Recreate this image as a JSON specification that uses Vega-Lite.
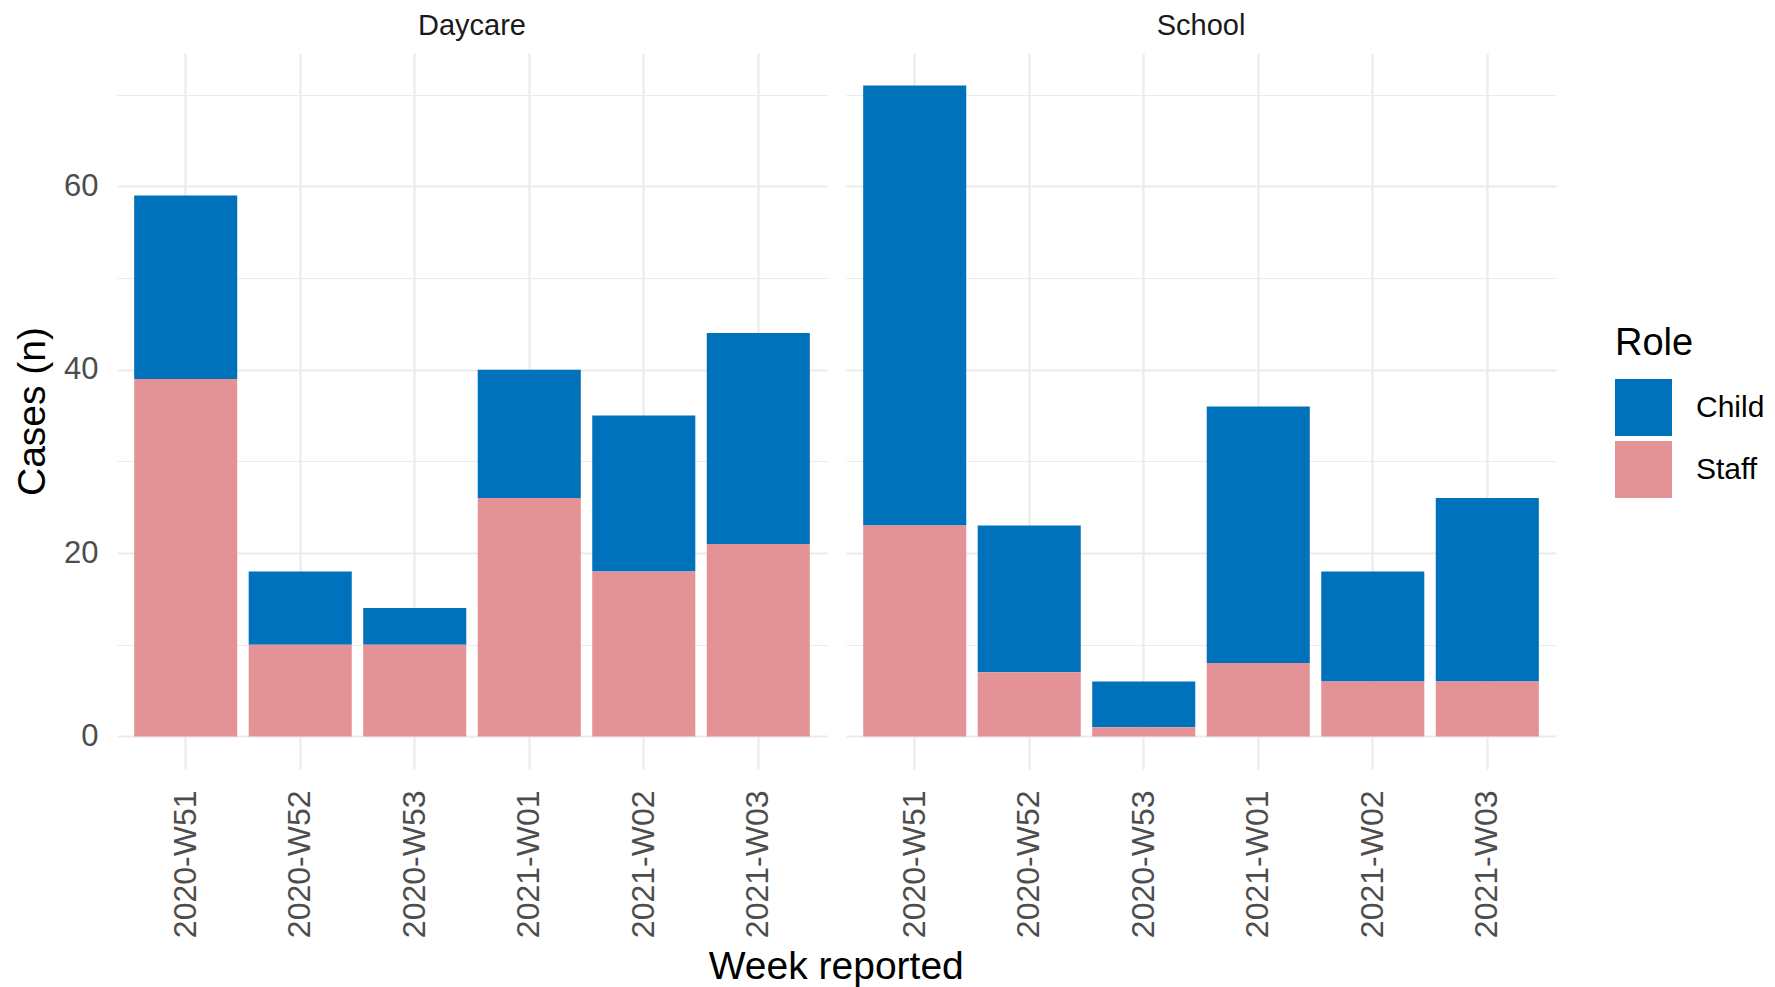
{
  "$schema": "https://vega.github.io/schema/vega-lite/v6.json",
  "background": "white",
  "padding": {"left": 13, "top": 12, "right": 5, "bottom": 3},
  "title": {
    "text": "Week reported",
    "orient": "bottom",
    "anchor": "middle",
    "frame": "bounds",
    "dx": -53,
    "font": "Liberation Sans",
    "fontSize": 39,
    "fontWeight": "normal",
    "color": "#000000",
    "offset": 10
  },
  "data": {
    "values": [
      {"site": "Daycare", "week": "2020-W51", "role": "Child", "n": 20},
      {"site": "Daycare", "week": "2020-W51", "role": "Staff", "n": 39},
      {"site": "Daycare", "week": "2020-W52", "role": "Child", "n": 8},
      {"site": "Daycare", "week": "2020-W52", "role": "Staff", "n": 10},
      {"site": "Daycare", "week": "2020-W53", "role": "Child", "n": 4},
      {"site": "Daycare", "week": "2020-W53", "role": "Staff", "n": 10},
      {"site": "Daycare", "week": "2021-W01", "role": "Child", "n": 14},
      {"site": "Daycare", "week": "2021-W01", "role": "Staff", "n": 26},
      {"site": "Daycare", "week": "2021-W02", "role": "Child", "n": 17},
      {"site": "Daycare", "week": "2021-W02", "role": "Staff", "n": 18},
      {"site": "Daycare", "week": "2021-W03", "role": "Child", "n": 23},
      {"site": "Daycare", "week": "2021-W03", "role": "Staff", "n": 21},
      {"site": "School", "week": "2020-W51", "role": "Child", "n": 48},
      {"site": "School", "week": "2020-W51", "role": "Staff", "n": 23},
      {"site": "School", "week": "2020-W52", "role": "Child", "n": 16},
      {"site": "School", "week": "2020-W52", "role": "Staff", "n": 7},
      {"site": "School", "week": "2020-W53", "role": "Child", "n": 5},
      {"site": "School", "week": "2020-W53", "role": "Staff", "n": 1},
      {"site": "School", "week": "2021-W01", "role": "Child", "n": 28},
      {"site": "School", "week": "2021-W01", "role": "Staff", "n": 8},
      {"site": "School", "week": "2021-W02", "role": "Child", "n": 12},
      {"site": "School", "week": "2021-W02", "role": "Staff", "n": 6},
      {"site": "School", "week": "2021-W03", "role": "Child", "n": 20},
      {"site": "School", "week": "2021-W03", "role": "Staff", "n": 6}
    ]
  },
  "facet": {
    "column": {
      "field": "site",
      "type": "nominal",
      "header": {
        "title": null,
        "labelFont": "Liberation Sans",
        "labelFontSize": 29,
        "labelColor": "#1a1a1a",
        "labelPadding": 12
      }
    }
  },
  "spacing": 19,
  "spec": {
    "width": 710,
    "height": 716,
    "mark": {"type": "bar"},
    "encoding": {
      "x": {
        "field": "week",
        "type": "ordinal",
        "sort": ["2020-W51", "2020-W52", "2020-W53", "2021-W01", "2021-W02", "2021-W03"],
        "scale": {"paddingInner": 0.1, "paddingOuter": 0.15},
        "axis": {
          "title": null,
          "labelAngle": 270,
          "labelFont": "Liberation Sans",
          "labelFontSize": 32,
          "labelColor": "#4d4d4d",
          "labelPadding": 21,
          "labelOverlap": false,
          "ticks": false,
          "domain": false,
          "grid": true,
          "bandPosition": 0.5,
          "gridColor": "#ebebeb",
          "gridWidth": 2.2
        }
      },
      "y": {
        "field": "n",
        "type": "quantitative",
        "stack": "zero",
        "scale": {"domain": [-3.55, 74.55], "nice": false, "zero": false},
        "axis": {
          "title": "Cases (n)",
          "titleFont": "Liberation Sans",
          "titleFontSize": 39,
          "titleFontWeight": "normal",
          "titleColor": "#000000",
          "titlePadding": 11,
          "values": [0, 10, 20, 30, 40, 50, 60, 70],
          "labelExpr": "datum.value % 20 === 0 ? datum.label : ''",
          "labelFont": "Liberation Sans",
          "labelFontSize": 31,
          "labelColor": "#4d4d4d",
          "labelPadding": 19,
          "ticks": false,
          "domain": false,
          "grid": true,
          "gridColor": "#ebebeb",
          "gridWidth": {"condition": {"test": "datum.value % 20 === 0", "value": 2.2}, "value": 1.1}
        }
      },
      "color": {
        "field": "role",
        "type": "nominal",
        "scale": {"domain": ["Child", "Staff"], "range": ["#0072bb", "#e39395"]},
        "legend": {
          "title": "Role",
          "titleFont": "Liberation Sans",
          "titleFontSize": 38,
          "titleFontWeight": "normal",
          "titleColor": "#000000",
          "titlePadding": 16,
          "labelFont": "Liberation Sans",
          "labelFontSize": 30,
          "labelColor": "#000000",
          "labelOffset": 24,
          "symbolType": "square",
          "symbolSize": 3249,
          "symbolStrokeWidth": 0,
          "symbolOpacity": 1,
          "rowPadding": 5,
          "orient": "none",
          "legendX": 1498,
          "legendY": 272
        }
      },
      "order": {"field": "role", "sort": "descending"}
    }
  },
  "config": {
    "view": {"stroke": null},
    "font": "Liberation Sans"
  }
}
